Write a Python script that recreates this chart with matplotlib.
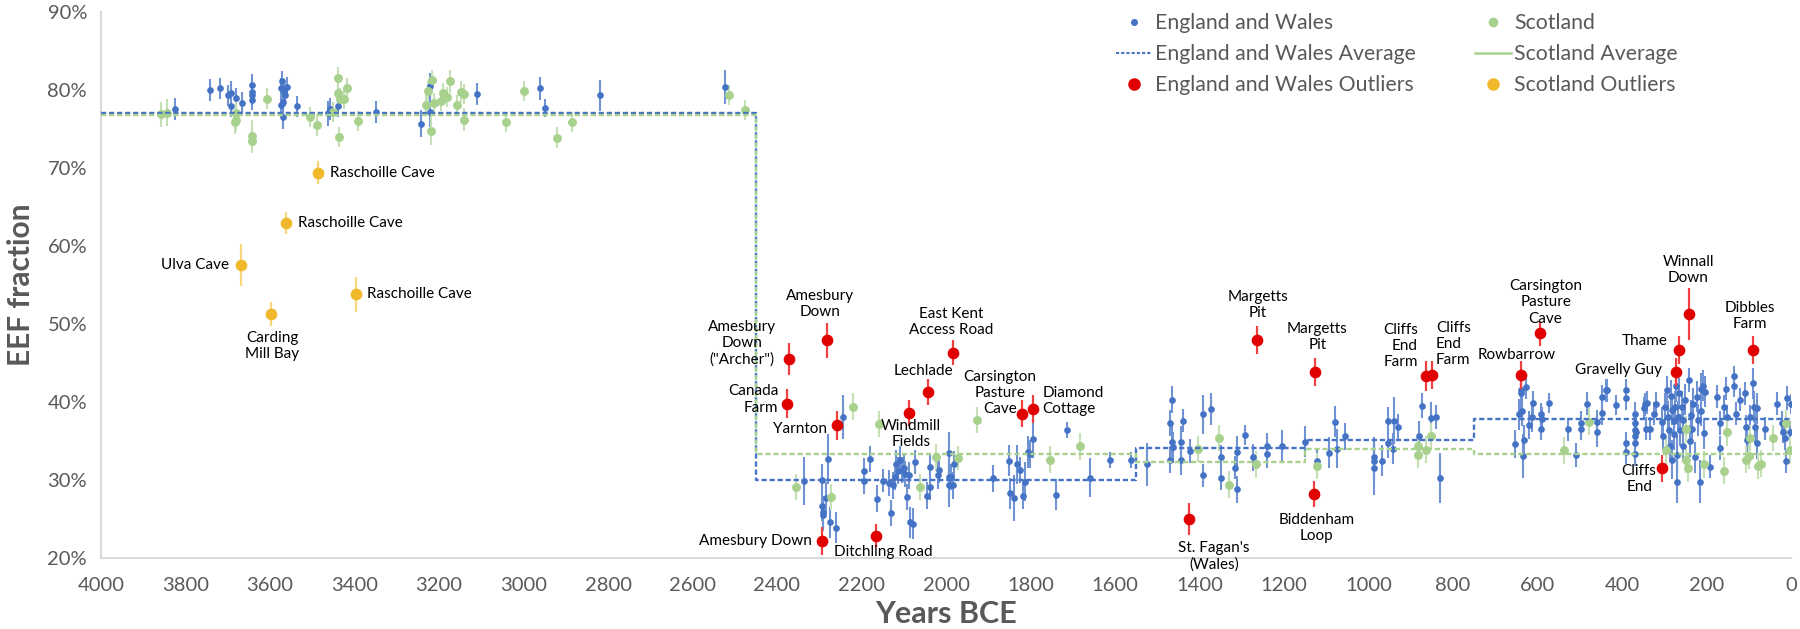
import matplotlib
matplotlib.use("Agg")
import matplotlib.pyplot as plt
from matplotlib.lines import Line2D
from matplotlib.ticker import FuncFormatter, MultipleLocator

plt.rcParams['font.family'] = ['Lato', 'DejaVu Sans']

# England and Wales samples: (year BCE, EEF %, error %)
ew_points = [
    (3824, 77.6, 1.4), (3743, 80.0, 1.4), (3719, 80.2, 1.3), (3700, 79.3, 1.4),
    (3692, 79.6, 1.5), (3692, 78.0, 1.4), (3681, 79.0, 1.3), (3666, 78.3, 1.4),
    (3643, 80.6, 1.4), (3643, 79.8, 1.3), (3643, 79.4, 1.3), (3643, 78.7, 1.3),
    (3575, 80.2, 1.3), (3571, 81.2, 1.2), (3566, 79.9, 1.4), (3560, 80.4, 1.3),
    (3570, 78.5, 1.5), (3575, 78.1, 1.4), (3570, 76.5, 1.5), (3565, 79.4, 1.4),
    (3536, 77.9, 1.3), (3462, 77.0, 1.6), (3459, 77.6, 1.4), (3439, 78.0, 1.4),
    (3348, 77.2, 1.4), (3243, 75.7, 1.7), (3222, 80.5, 1.7), (3222, 77.2, 2.0),
    (3109, 79.5, 1.4), (2960, 80.2, 1.5), (2950, 77.7, 1.2), (2818, 79.3, 2.0),
    (2522, 80.4, 2.2),
    (2336, 29.9, 3.1), (2280, 32.7, 3.2), (2294, 30.0, 2.0), (2294, 26.7, 2.0),
    (2292, 25.9, 2.0), (2290, 25.5, 2.0), (2283, 27.7, 2.0), (2275, 24.6, 2.0),
    (2260, 23.9, 2.0), (2243, 38.1, 2.8), (2181, 32.7, 1.7), (2194, 31.1, 1.7),
    (2194, 29.9, 1.7), (2164, 27.6, 1.7), (2148, 29.9, 1.5), (2136, 29.6, 1.7),
    (2130, 25.8, 1.7), (2125, 29.3, 1.7), (2121, 30.4, 1.7), (2118, 32.1, 1.7),
    (2113, 31.2, 1.7), (2109, 32.6, 1.7), (2103, 31.3, 1.7), (2100, 31.5, 1.7),
    (2097, 30.8, 1.7), (2093, 27.8, 1.7), (2088, 30.6, 1.7), (2085, 24.6, 2.0),
    (2077, 24.4, 2.0), (2073, 32.3, 1.5), (2044, 28.0, 1.7), (2038, 29.1, 1.7),
    (2037, 31.7, 1.5), (2018, 30.6, 1.7), (2016, 31.3, 1.7), (1993, 33.5, 2.7),
    (1992, 30.4, 2.7), (1992, 29.3, 2.7), (1983, 29.3, 1.7), (1987, 30.4, 1.7),
    (1980, 32.0, 1.7),
    (1889, 30.2, 1.7), (1850, 32.5, 2.0), (1849, 28.3, 2.0), (1839, 27.7, 3.0),
    (1833, 32.0, 2.5), (1825, 31.3, 1.7), (1817, 28.0, 1.7), (1812, 29.8, 2.5),
    (1805, 33.6, 2.0), (1802, 33.3, 1.8), (1793, 35.3, 2.5), (1740, 28.1, 2.0),
    (1714, 36.4, 1.0), (1658, 30.3, 2.5), (1611, 32.6, 1.0), (1562, 32.6, 1.0),
    (1525, 32.0, 2.8), (1471, 37.3, 1.7), (1464, 40.3, 1.7), (1471, 32.6, 1.7),
    (1464, 34.9, 2.0), (1462, 34.2, 2.0), (1444, 34.9, 2.0), (1440, 37.6, 1.5),
    (1443, 32.6, 2.0), (1422, 33.7, 1.5), (1392, 38.4, 2.5), (1391, 30.6, 1.5),
    (1372, 39.1, 2.0), (1349, 33.0, 1.5), (1349, 30.2, 1.5), (1317, 31.6, 1.5),
    (1312, 33.6, 2.0), (1311, 28.8, 1.7), (1293, 35.8, 1.3), (1273, 32.9, 1.7),
    (1241, 34.3, 1.7), (1240, 33.3, 1.7), (1204, 34.4, 2.0), (1150, 34.9, 2.0),
    (1123, 32.4, 1.5), (1093, 33.5, 2.0), (1080, 37.5, 2.0), (1074, 34.0, 2.5),
    (1056, 35.6, 1.7), (987, 33.0, 2.5), (987, 32.4, 2.5), (987, 31.6, 3.5),
    (969, 32.5, 2.0), (954, 37.6, 1.7), (953, 34.8, 2.0), (941, 34.0, 2.0),
    (940, 37.6, 3.0), (930, 36.8, 1.7), (880, 35.6, 2.0), (874, 39.5, 1.6),
    (851, 38.0, 2.0), (841, 38.1, 1.5), (831, 30.3, 3.2),
    (654, 34.6, 1.8), (644, 38.4, 2.0), (640, 41.1, 2.0), (638, 41.5, 2.0),
    (628, 41.9, 1.5), (637, 38.9, 2.0), (634, 33.1, 2.8), (633, 35.1, 2.0),
    (619, 37.1, 1.8), (612, 38.1, 2.0), (610, 39.9, 1.5), (591, 38.4, 1.5),
    (590, 37.8, 1.5), (591, 36.6, 1.5), (572, 39.9, 1.3), (527, 36.5, 1.5),
    (510, 33.2, 1.5), (497, 36.6, 1.5), (496, 37.3, 1.5), (482, 39.8, 1.5),
    (458, 36.2, 2.0), (459, 37.5, 1.5), (448, 38.6, 1.5), (448, 40.7, 1.5),
    (438, 41.5, 1.5), (436, 41.5, 1.5), (414, 39.6, 1.3), (391, 41.5, 1.5),
    (390, 40.5, 1.5), (391, 34.7, 1.5), (391, 33.6, 1.5), (369, 38.5, 1.5),
    (369, 37.3, 1.5), (369, 36.4, 1.5), (369, 35.6, 1.5), (369, 34.7, 1.5),
    (369, 33.3, 1.5), (366, 36.2, 1.5), (349, 39.2, 1.5), (345, 39.7, 1.5),
    (343, 36.6, 1.5), (341, 39.9, 1.5), (334, 36.6, 1.5), (324, 38.5, 1.5),
    (319, 39.8, 1.5), (306, 37.5, 1.8), (302, 35.6, 1.8), (298, 39.4, 1.8),
    (293, 41.5, 1.8), (290, 38.1, 2.0), (288, 36.4, 2.0), (286, 34.3, 2.0),
    (285, 40.8, 2.0), (282, 32.6, 2.5), (281, 39.0, 2.0), (278, 37.6, 2.0),
    (277, 35.9, 2.0), (275, 39.4, 2.0), (272, 42.0, 2.0), (270, 29.8, 2.8),
    (269, 33.2, 2.5), (267, 38.1, 2.0), (265, 41.1, 2.0), (263, 36.4, 2.0),
    (259, 39.4, 2.0), (256, 34.3, 2.0), (255, 37.7, 2.0), (252, 40.3, 2.0),
    (241, 42.8, 1.5), (239, 35.0, 2.0), (237, 38.3, 2.0), (235, 36.6, 2.0),
    (231, 39.8, 2.0), (227, 32.9, 2.0), (223, 40.7, 2.0), (219, 37.7, 2.0),
    (215, 29.8, 2.8), (214, 41.7, 2.0), (212, 38.9, 2.0), (208, 42.1, 2.0),
    (206, 36.0, 2.0), (204, 41.3, 2.0), (192, 31.7, 1.5), (174, 40.7, 1.5),
    (169, 37.3, 1.5), (168, 34.1, 1.5), (159, 39.4, 1.5), (154, 41.7, 1.5),
    (151, 38.1, 1.5), (135, 43.3, 1.3), (135, 42.0, 1.3), (130, 38.5, 1.5),
    (121, 40.3, 1.5), (108, 41.1, 1.5), (107, 36.8, 1.5), (104, 35.1, 1.5),
    (98, 38.1, 1.5), (89, 42.4, 2.0), (88, 39.4, 2.0), (85, 36.8, 2.0),
    (81, 39.2, 2.0), (80, 34.7, 2.0), (61, 36.6, 1.5), (32, 39.8, 1.5),
    (22, 37.3, 1.5), (18, 36.2, 1.5), (14, 35.4, 1.5), (12, 32.4, 1.5),
    (10, 40.5, 1.5), (0, 39.7, 1.3), (2, 36.1, 1.5),
]

# Scotland samples: (year BCE, EEF %, error %)
sc_points = [
    (3858, 76.9, 1.6), (3843, 77.1, 1.7), (3680, 77.0, 1.5), (3680, 76.2, 1.5),
    (3683, 75.9, 1.5), (3643, 74.1, 2.0), (3643, 73.4, 1.5), (3608, 78.9, 1.3),
    (3505, 76.5, 1.3), (3489, 75.5, 1.4), (3452, 77.2, 1.3), (3440, 81.6, 1.3),
    (3440, 79.6, 1.3), (3434, 78.9, 1.3), (3425, 78.9, 1.3), (3418, 80.2, 1.3),
    (3436, 74.0, 1.3), (3392, 76.0, 1.3), (3231, 78.1, 1.3), (3225, 79.9, 1.3),
    (3217, 81.3, 1.3), (3220, 74.8, 1.8), (3211, 78.3, 1.3), (3195, 78.6, 1.3),
    (3190, 79.6, 1.3), (3181, 79.1, 1.3), (3173, 81.1, 1.5), (3158, 78.1, 1.3),
    (3148, 79.8, 1.3), (3142, 79.5, 1.3), (3142, 76.2, 1.5), (2999, 79.9, 1.3),
    (3041, 75.9, 1.3), (2920, 73.9, 1.3), (2885, 75.9, 1.3), (2513, 79.4, 1.3),
    (2476, 77.4, 1.3),
    (2356, 29.1, 1.7), (2272, 27.8, 1.7), (2219, 39.4, 1.7), (2158, 37.2, 1.7),
    (2062, 29.1, 1.7), (2023, 32.9, 1.7), (1972, 32.8, 1.5), (1926, 37.7, 1.7),
    (1754, 32.6, 1.7), (1684, 34.3, 1.7), (1403, 34.0, 1.7), (1354, 35.4, 1.7),
    (1330, 29.4, 1.7), (1266, 32.0, 1.7), (1122, 31.8, 1.7), (884, 34.3, 1.7),
    (884, 33.2, 1.7), (865, 33.9, 1.7), (851, 35.6, 1.7), (538, 33.8, 1.7),
    (477, 37.5, 1.7), (296, 33.8, 1.7), (248, 36.5, 1.7), (248, 32.6, 1.7),
    (243, 31.5, 1.7), (206, 32.0, 1.7), (159, 31.2, 1.7), (151, 36.1, 1.7),
    (107, 32.6, 1.7), (98, 35.4, 1.7), (100, 33.1, 1.7), (77, 31.8, 1.7),
    (70, 32.1, 1.7), (42, 35.4, 1.7), (12, 37.3, 1.7), (2, 33.8, 1.7),
]

# Average step lines
avg_years = [4000, 2450, 1550, 1150, 750, 0]
ew_avg = [77.1, 30.0, 34.1, 35.1, 37.8, 37.8]
sc_avg = [76.8, 33.3, 32.3, 34.0, 33.3, 33.3]

# Outliers: (label, year, EEF %, error %)
ew_outliers = [
    ('Amesbury\nDown\n("Archer")', 2372, 45.5, 2.1),
    ('Amesbury\nDown', 2282, 47.9, 2.2),
    ('Canada\nFarm', 2376, 39.8, 1.9),
    ('Yarnton', 2259, 37.0, 1.9),
    ('Lechlade', 2043, 41.3, 1.7),
    ('Windmill\nFields', 2088, 38.6, 1.7),
    ('East Kent\nAccess Road', 1984, 46.3, 1.6),
    ('Carsington\nPasture\nCave', 1821, 38.5, 1.7),
    ('Diamond\nCottage', 1793, 39.1, 1.8),
    ('Amesbury Down', 2293, 22.2, 1.8),
    ('Ditchling Road', 2165, 22.8, 1.5),
    ("St. Fagan's\n(Wales)", 1425, 25.0, 2.0),
    ('Margetts\nPit', 1264, 47.9, 1.8),
    ('Margetts\nPit', 1126, 43.8, 1.8),
    ('Biddenham\nLoop', 1128, 28.2, 1.7),
    ('Cliffs\nEnd\nFarm', 864, 43.3, 1.9),
    ('Cliffs\nEnd\nFarm', 850, 43.5, 1.8),
    ('Rowbarrow', 639, 43.5, 1.8),
    ('Carsington\nPasture\nCave', 595, 48.8, 1.6),
    ('Thame', 265, 46.7, 1.8),
    ('Gravelly Guy', 272, 43.8, 1.8),
    ('Winnall\nDown', 241, 51.3, 3.3),
    ('Dibbles\nFarm', 91, 46.7, 1.8),
    ('Cliffs\nEnd', 305, 31.5, 1.7),
]
sc_outliers = [
    ('Raschoille Cave', 3486, 69.4, 1.5),
    ('Raschoille Cave', 3563, 63.0, 1.4),
    ('Ulva Cave', 3669, 57.6, 2.7),
    ('Raschoille Cave', 3396, 53.8, 2.2),
    ('Carding\nMill Bay', 3597, 51.3, 1.5),
]

# label placement: (dx px, dy px, ha, multialignment)
ew_label_pos = [
    (-13, 16, 'right', 'center'), (-7, 36, 'center', 'center'),
    (-9, 4, 'right', 'right'), (-10, -4, 'right', 'right'),
    (-4, 21, 'center', 'center'), (2, -21, 'center', 'center'),
    (-2, 31, 'center', 'center'), (-22, 21, 'center', 'center'),
    (9, 8, 'left', 'left'), (-10, 0, 'right', 'right'),
    (7, -16, 'center', 'center'), (25, -37, 'center', 'center'),
    (1, 35, 'center', 'center'), (2, 35, 'center', 'center'),
    (2, -34, 'center', 'center'), (-8, 30, 'right', 'right'),
    (4, 31, 'left', 'left'), (-4, 20, 'center', 'center'),
    (6, 31, 'center', 'center'), (-11, 9, 'right', 'right'),
    (-14, 2, 'right', 'right'), (-1, 44, 'center', 'center'),
    (-3, 34, 'center', 'center'), (-23, -11, 'center', 'center'),
]
sc_label_pos = [
    (12, 0, 'left', 'left'), (12, 0, 'left', 'left'),
    (-12, 0, 'right', 'right'), (11, 0, 'left', 'left'),
    (1, -32, 'center', 'center'),
]

blue = '#4472C4'
blue_err = '#6F93D3'
green = '#A9D18E'
green_err = '#C5E0B4'
red = '#E00000'
red_err = '#F04040'
gold = '#F0B82A'
gold_err = '#F7D77E'
grey_txt = '#595959'

fig = plt.figure(figsize=(18, 6.29), dpi=100)
ax = fig.add_axes([101 / 1800, 71 / 629, 1690 / 1800, 546 / 629])


def unpack(points):
    return [p[0] for p in points], [p[1] for p in points], [p[2] for p in points]


x, y, e = unpack(ew_points)
ax.errorbar(x, y, yerr=e, fmt='o', ms=3.8, color=blue, ecolor=blue_err,
            elinewidth=1.5, capsize=0, zorder=3)
x, y, e = unpack(sc_points)
ax.errorbar(x, y, yerr=e, fmt='o', ms=5.4, color=green, ecolor=green_err,
            elinewidth=1.5, capsize=0, zorder=3)

ax.step(avg_years, ew_avg, where='post', color=blue, lw=1.7,
        linestyle=(0, (2.2, 1.2)), zorder=4)
ax.step(avg_years, sc_avg, where='post', color=green, lw=1.7,
        linestyle=(0, (2.2, 1.2)), zorder=4)

for pts, pos, col, ecol in [(ew_outliers, ew_label_pos, red, red_err),
                            (sc_outliers, sc_label_pos, gold, gold_err)]:
    xs = [p[1] for p in pts]
    ys = [p[2] for p in pts]
    es = [p[3] for p in pts]
    ax.errorbar(xs, ys, yerr=es, fmt='o', ms=7.4, color=col, ecolor=ecol,
                elinewidth=1.6, capsize=0, zorder=5)
    for (lab, xv, yv, _), (dx, dy, ha, ma) in zip(pts, pos):
        ax.annotate(lab, (xv, yv), xytext=(dx * 0.72, dy * 0.72),
                    textcoords='offset points', ha=ha, va='center',
                    multialignment=ma, fontsize=11, color='black',
                    linespacing=1.2, zorder=6)

ax.set_xlim(4000, 0)
ax.set_ylim(20, 90)
ax.xaxis.set_major_locator(MultipleLocator(200))
ax.yaxis.set_major_locator(MultipleLocator(10))
ax.yaxis.set_major_formatter(FuncFormatter(lambda v, p: f'{v:.0f}%'))
ax.tick_params(length=0, labelsize=14.5, colors=grey_txt)
ax.tick_params(axis='x', pad=14)
ax.tick_params(axis='y', pad=10)
for s in ['top', 'right']:
    ax.spines[s].set_visible(False)
for s in ['left', 'bottom']:
    ax.spines[s].set_color('#D9D9D9')
    ax.spines[s].set_linewidth(1.5)

fig.text(21 / 1800, 1 - 285 / 629, 'EEF fraction', rotation=90,
         ha='center', va='center', fontsize=21.5, fontweight='bold', color=grey_txt)
fig.text(946 / 1800, 15 / 629, 'Years BCE', ha='center', va='center',
         fontsize=22, fontweight='bold', color=grey_txt)

h1 = [Line2D([], [], marker='o', ms=4, color=blue, lw=0),
      Line2D([], [], color=blue, lw=1.5, linestyle=(0, (1.5, 1))),
      Line2D([], [], marker='o', ms=8, color=red, lw=0)]
l1 = ['England and Wales', 'England and Wales Average', 'England and Wales Outliers']
h2 = [Line2D([], [], marker='o', ms=6, color=green, lw=0),
      Line2D([], [], color=green, lw=1.8),
      Line2D([], [], marker='o', ms=8, color=gold, lw=0)]
l2 = ['Scotland', 'Scotland Average', 'Scotland Outliers']

kw = dict(frameon=False, fontsize=15.3, labelcolor=grey_txt, handlelength=1.7,
          handletextpad=0.15, labelspacing=0.52, borderpad=0, borderaxespad=0,
          loc='upper left')
fig.legend(h1, l1, bbox_to_anchor=(1116 / 1800, 1 - 13 / 629), **kw)
fig.legend(h2, l2, bbox_to_anchor=(1475 / 1800, 1 - 13 / 629), **kw)

fig.savefig('out.png', dpi=100)
